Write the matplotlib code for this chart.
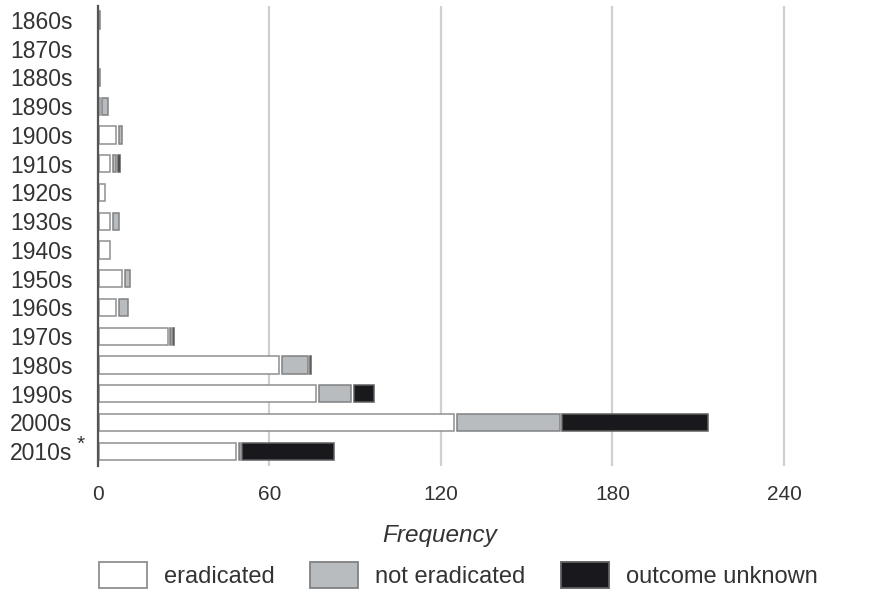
import matplotlib
matplotlib.use("Agg")
import matplotlib.pyplot as plt
from matplotlib.patches import Rectangle
from matplotlib.patheffects import AbstractPathEffect
from matplotlib.transforms import Affine2D
import numpy as np

plt.rcParams['font.family'] = ['Liberation Sans', 'DejaVu Sans']

decades = ["1860s", "1870s", "1880s", "1890s", "1900s", "1910s", "1920s", "1930s",
           "1940s", "1950s", "1960s", "1970s", "1980s", "1990s", "2000s", "2010s"]
eradicated = [0, 0, 0, 1, 7, 5, 3, 5, 5, 9, 7, 25, 64, 77, 125, 49]
not_eradicated = [1, 0, 1, 3, 2, 2, 0, 3, 0, 3, 4, 1, 10, 12, 37, 1]
outcome_unknown = [0, 0, 0, 0, 0, 1, 0, 0, 0, 0, 0, 1, 1, 8, 52, 33]
xticks = [0, 60, 120, 180, 240]
series_names = ["eradicated", "not eradicated", "outcome unknown"]

fills = ["#ffffff", "#b9bcbe", "#19181d"]
edges = ["#8f8f8f", "#7f8182", "#5f5f5f"]


class HInset(AbstractPathEffect):
    """Shrink a patch horizontally by a few pixels so stacked segments show a small gap."""

    def __init__(self, px=1.5, minw=1.2):
        super().__init__()
        self.px = px
        self.minw = minw

    def draw_path(self, renderer, gc, tpath, affine, rgbFace=None):
        verts = affine.transform(tpath.vertices)
        x0, x1 = verts[:, 0].min(), verts[:, 0].max()
        w = x1 - x0
        if w <= 0:
            return
        neww = max(w - 2 * self.px, min(w, self.minw))
        cx = (x0 + x1) / 2
        extra = Affine2D().translate(-cx, 0).scale(neww / w, 1).translate(cx, 0)
        renderer.draw_path(gc, tpath, affine + extra, rgbFace)


fig = plt.figure(figsize=(8.95, 5.93), dpi=100)
ax = fig.add_axes([0.109, 0.215, 0.863, 0.7756])

y = np.arange(len(decades))
left = np.zeros(len(decades))
for vals, fc, ec in zip([eradicated, not_eradicated, outcome_unknown], fills, edges):
    vals = np.array(vals, dtype=float)
    bars = ax.barh(y, vals, left=left, height=0.6, color=fc, edgecolor=ec,
                   linewidth=1.1, zorder=3)
    for b in bars:
        b.set_path_effects([HInset(1.4, 1.3)])
    left += vals

ax.set_ylim(len(decades) - 0.5, -0.5)
ax.set_xlim(0, 270)
ax.set_xticks(xticks)
ax.set_xticklabels([str(t) for t in xticks], fontsize=15, color="#333333")
ax.set_yticks(y)
ax.set_yticklabels(decades, fontsize=16.5, color="#333333")
ax.tick_params(axis="both", length=0)
ax.tick_params(axis="y", pad=18)
ax.tick_params(axis="x", pad=14)
ax.xaxis.grid(True, color="#cfcfcf", linewidth=1.6, zorder=0)
ax.set_axisbelow(True)
for s in ["top", "right", "bottom"]:
    ax.spines[s].set_visible(False)
ax.spines["left"].set_color("#555555")
ax.spines["left"].set_linewidth(1.6)
ax.spines["left"].set_zorder(4)

ax.set_xlabel("Frequency", fontsize=17.5, fontstyle="italic", color="#333333")
ax.xaxis.set_label_coords(0.4434, -0.152)
ax.xaxis.label.set_va("center")

ax.annotate("*", xy=(0, len(decades) - 1), xycoords=("axes fraction", "data"),
            xytext=(-12, 5), textcoords="offset points", ha="center", va="center",
            fontsize=15, color="#333333")

handles = [Rectangle((0, 0), 1, 1, facecolor=fc, edgecolor=ec, linewidth=1.3)
           for fc, ec in zip(fills, edges)]
fig.legend(handles, series_names, loc="center", bbox_to_anchor=(0.512, 0.03),
           ncol=3, frameon=False, fontsize=17, handlelength=2.03, handleheight=1.3,
           handletextpad=0.72, columnspacing=1.5, labelcolor="#333333")

fig.savefig("out.png", dpi=100)
